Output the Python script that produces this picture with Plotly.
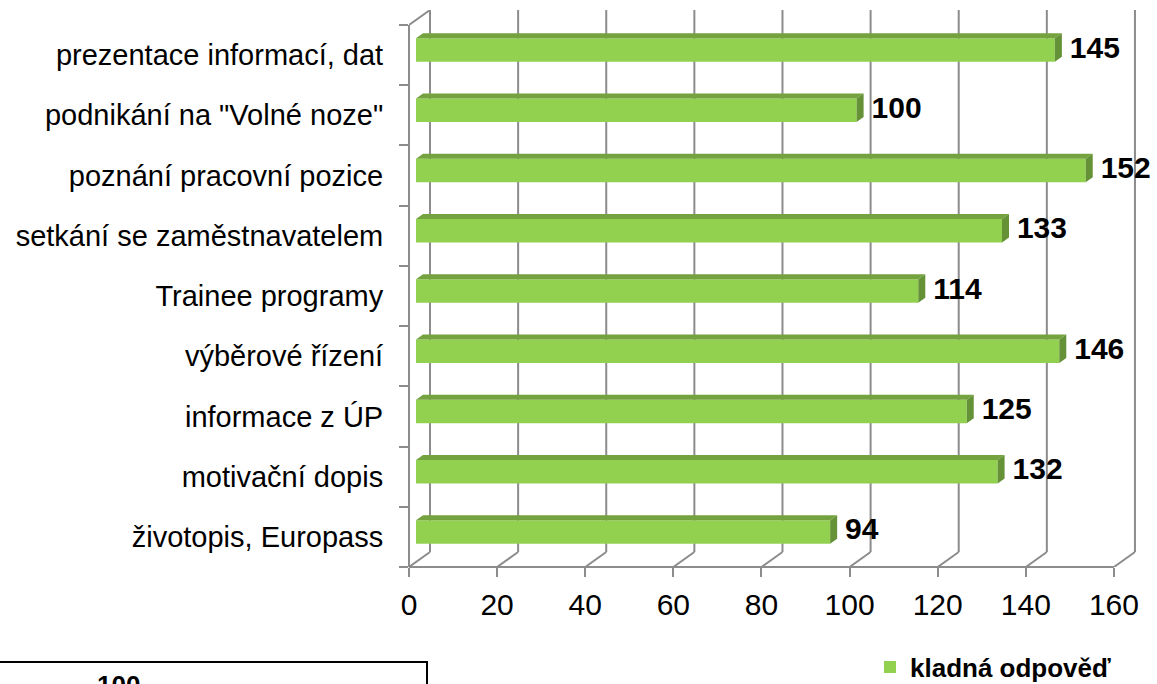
import plotly.graph_objects as go

# ---------------- data ----------------
categories = [
    "životopis, Europass",
    "motivační dopis",
    "informace z ÚP",
    "výběrové řízení",
    "Trainee programy",
    "setkání se zaměstnavatelem",
    "poznání pracovní pozice",
    'podnikání na "Volné noze"',
    "prezentace informací, dat",
]
values = [94, 132, 125, 146, 114, 133, 152, 100, 145]
x_ticks = [0, 20, 40, 60, 80, 100, 120, 140, 160]
series_name = "kladná odpověď"
other_box_value = "100"

# ---------------- geometry / style ----------------
W, H = 1157, 684
L, T, B, R = 409, 10, 117, 0
plot_w = W - L - R
plot_h = H - T - B
DX_PX, DY_PX = 21, 15            # 3-D depth offset of the back wall (px)
px_per_unit = 4.406
n = len(categories)
band_px = (plot_h - DY_PX) / n
x_range = [0, plot_w / px_per_unit]
y_range = [-0.5, -0.5 + plot_h / band_px]
dX = DX_PX / px_per_unit
dY = DY_PX / band_px
bar_w = 23.5 / band_px

FONT = "Liberation Sans, Arial, sans-serif"
GRID = "#8c8c8c"
FRONT = "#92d050"
TOP = "#74a23f"
SIDE = "#659236"

idx = list(range(n))
bar_y = [i + dY / 3 for i in idx]
base = dX / 3

fig = go.Figure()

# front faces of the bars
fig.add_trace(go.Bar(
    x=values, y=bar_y, base=[base] * n, orientation="h", width=bar_w,
    marker=dict(color=FRONT, line=dict(width=0)),
    name=series_name, showlegend=True, hoverinfo="skip",
))

# top faces and side faces (computed from values)
tx, ty, sx, sy = [], [], [], []
for v, yc in zip(values, bar_y):
    yt, yb = yc + bar_w / 2, yc - bar_w / 2
    x0, x1 = base, base + v
    tx += [x0, x1, x1 + dX / 3, x0 + dX / 3, x0, None]
    ty += [yt, yt, yt + dY / 3, yt + dY / 3, yt, None]
    sx += [x1, x1 + dX / 3, x1 + dX / 3, x1, x1, None]
    sy += [yt, yt + dY / 3, yb + dY / 3, yb, yt, None]
fig.add_trace(go.Scatter(x=tx, y=ty, mode="lines", fill="toself", fillcolor=TOP,
                         line=dict(width=0, color=TOP), showlegend=False, hoverinfo="skip"))
fig.add_trace(go.Scatter(x=sx, y=sy, mode="lines", fill="toself", fillcolor=SIDE,
                         line=dict(width=0, color=SIDE), showlegend=False, hoverinfo="skip"))

# value labels
fig.add_trace(go.Scatter(
    x=[base + v + dX / 3 + 1.8 for v in values], y=bar_y, mode="text",
    text=[str(v) for v in values], textposition="middle right",
    textfont=dict(family=FONT, size=30, color="black", weight="bold"),
    cliponaxis=False, showlegend=False, hoverinfo="skip",
))

# ---------------- 3-D frame ----------------
shapes = []
line = dict(color=GRID, width=2)
for v in x_ticks:
    # back-wall gridline
    shapes.append(dict(type="line", xref="x", yref="y", x0=v + dX, x1=v + dX,
                       y0=-0.5 + dY, y1=n - 0.5 + dY, line=line, layer="below"))
    # floor diagonal
    shapes.append(dict(type="line", xref="x", yref="y", x0=v, x1=v + dX,
                       y0=-0.5, y1=-0.5 + dY, line=line, layer="below"))
# floor front edge
shapes.append(dict(type="line", xref="x", yref="paper", x0=x_ticks[0], x1=x_ticks[-1],
                   y0=0, y1=0, line=line, layer="below"))
# left wall front edge
shapes.append(dict(type="line", xref="paper", yref="y", x0=0, x1=0,
                   y0=-0.5, y1=n - 0.5, line=line, layer="below"))
# left wall top diagonal
shapes.append(dict(type="line", xref="x", yref="y", x0=0, x1=dX,
                   y0=n - 0.5, y1=n - 0.5 + dY, line=line, layer="below"))

# partially visible box at the bottom left
def px2paper_x(p):
    return (p - L) / plot_w

def px2paper_y(p):
    return (H - B - p) / plot_h

shapes.append(dict(type="rect", xref="paper", yref="paper",
                   x0=px2paper_x(-5), x1=px2paper_x(427),
                   y0=px2paper_y(710), y1=px2paper_y(662),
                   line=dict(color="black", width=2), fillcolor="rgba(0,0,0,0)"))

annotations = [dict(
    text=other_box_value, xref="paper", yref="paper",
    x=px2paper_x(118), y=px2paper_y(668), xanchor="center", yanchor="top",
    showarrow=False, font=dict(family=FONT, size=26, color="black", weight="bold"),
)]

fig.update_layout(
    width=W, height=H,
    margin=dict(l=L, r=R, t=T, b=B, pad=0, autoexpand=False),
    paper_bgcolor="white", plot_bgcolor="white",
    barmode="overlay",
    shapes=shapes, annotations=annotations,
    xaxis=dict(
        range=x_range, tickmode="array", tickvals=x_ticks,
        ticktext=[str(v) for v in x_ticks],
        showgrid=False, zeroline=False, showline=False,
        ticks="outside", ticklen=9, tickwidth=2, tickcolor=GRID,
        tickfont=dict(family=FONT, size=30, color="black"),
        ticklabelstandoff=2, fixedrange=True, automargin=False,
    ),
    yaxis=dict(
        range=y_range, tickmode="array", tickvals=idx, ticktext=categories,
        showgrid=False, zeroline=False, showline=False,
        ticks="outside", ticklen=9, tickcolor="rgba(0,0,0,0)",
        minor=dict(ticks="outside", ticklen=9, tickwidth=2, tickcolor=GRID,
                   tickmode="array", tickvals=[i - 0.5 for i in range(n + 1)],
                   showgrid=False),
        tickfont=dict(family=FONT, size=29, color="black"),
        ticklabelstandoff=10, fixedrange=True, automargin=False,
    ),
    legend=dict(
        x=px2paper_x(870), y=px2paper_y(667), xanchor="left", yanchor="middle",
        font=dict(family=FONT, size=26, color="black", weight="bold"),
        bgcolor="rgba(0,0,0,0)", itemwidth=30,
    ),
    showlegend=True,
)

fig.write_html("out.html", config={"displayModeBar": False},
               post_script="document.body.style.margin='0';")
